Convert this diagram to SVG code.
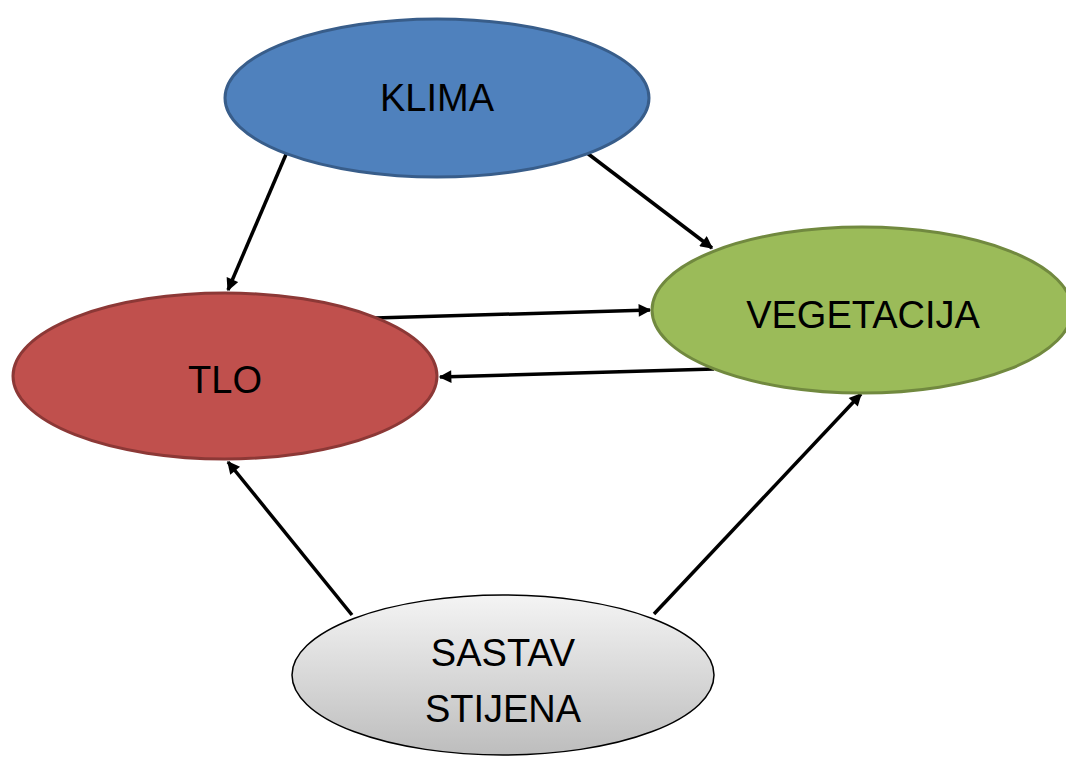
<svg xmlns="http://www.w3.org/2000/svg" width="1066" height="758" viewBox="0 0 1066 758">
<style>
.lbl{font-family:"Liberation Sans",Arial,sans-serif;font-size:38px;fill:#000;text-anchor:middle}
.con{stroke:#000;stroke-width:3.5;fill:none;marker-end:url(#ah)}
</style>
<defs>
<marker id="ah" viewBox="0 0 10 10" refX="9" refY="5" markerWidth="4.4" markerHeight="3.6" orient="auto" markerUnits="strokeWidth">
<path d="M0,0 L10,5 L0,10 Z" fill="#000"/>
</marker>
<linearGradient id="gray" x1="0" y1="0" x2="0" y2="1">
<stop offset="0" stop-color="#f4f4f4"/>
<stop offset="1" stop-color="#bdbdbd"/>
</linearGradient>
</defs>
<rect width="1066" height="758" fill="#fff"/>
<g id="connectors">
<line class="con" x1="287" y1="152" x2="228" y2="290"/>
<line class="con" x1="587" y1="153" x2="712" y2="248"/>
<line class="con" x1="375" y1="318" x2="650" y2="310"/>
<line class="con" x1="714" y1="369" x2="440" y2="377"/>
<line class="con" x1="352" y1="615" x2="228" y2="462"/>
<line class="con" x1="654" y1="614" x2="861" y2="394"/>
</g>
<g id="klima">
<ellipse cx="437" cy="98" rx="212" ry="79" fill="#4f81bd" stroke="#385d8a" stroke-width="3"/>
<text class="lbl" x="437" y="111">KLIMA</text>
</g>
<g id="tlo">
<ellipse cx="225" cy="376" rx="212" ry="83" fill="#c0504d" stroke="#8c3836" stroke-width="3"/>
<text class="lbl" x="225" y="393">TLO</text>
</g>
<g id="vegetacija">
<ellipse cx="862" cy="310" rx="210" ry="83" fill="#9bbb59" stroke="#71893f" stroke-width="3"/>
<text class="lbl" x="863" y="328">VEGETACIJA</text>
</g>
<g id="sastav">
<ellipse cx="503" cy="675" rx="211" ry="80" fill="url(#gray)" stroke="#000" stroke-width="1.5"/>
<text class="lbl" x="503" y="666">SASTAV</text>
<text class="lbl" x="503" y="722">STIJENA</text>
</g>
</svg>
